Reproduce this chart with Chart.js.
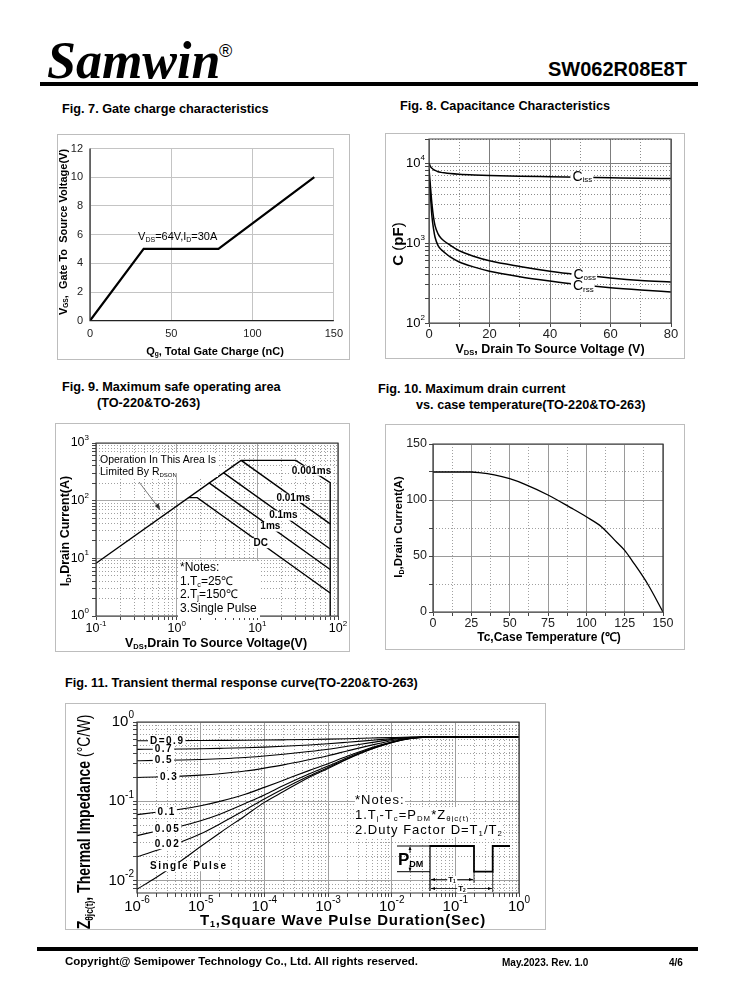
<!DOCTYPE html>
<html>
<head>
<meta charset="utf-8">
<title>SW062R08E8T</title>
<script src="https://cdn.jsdelivr.net/npm/chart.js@4.4.1/dist/chart.umd.min.js"></script>
<style>
  body { margin: 0; background: #fff; }
  #page { position: relative; width: 738px; height: 1000px; overflow: hidden; font-family: "Liberation Sans", Arial, sans-serif; color: #000; }
  .t { position: absolute; white-space: nowrap; line-height: 1; }
  .b { font-weight: bold; }
  .mid { transform: translateY(-50%); }
  .ctr { transform: translate(-50%, -50%); }
  .rot { transform: translate(-50%, -50%) rotate(-90deg); }
  .rule { position: absolute; background: #000; }
  .box { position: absolute; border: 1.5px solid #bdbdbd; box-sizing: border-box; pointer-events: none; }
  canvas { position: absolute; }
  sub { font-size: 0.6em; vertical-align: -0.3em; line-height: 0; }
  .wb { background: #fff; }
  .ttl { font-size: 12.7px; font-weight: bold; }
</style>
</head>
<body>
<div id="page">
  <!-- header -->
  <div class="t" style="left:47px;top:31px;font:italic bold 52px 'Liberation Serif',serif;">Samwin</div>
  <div class="t" style="left:219px;top:41px;font:18px 'Liberation Sans',sans-serif;">®</div>
  <div class="t b mid" style="left:548px;top:69px;font-size:20px;">SW062R08E8T</div>
  <div class="rule" style="left:40px;top:82px;width:658px;height:4px;"></div>

  <!-- figure titles -->
  <div class="t ttl mid" style="left:62px;top:109px;">Fig. 7. Gate charge characteristics</div>
  <div class="t ttl mid" style="left:400px;top:106px;">Fig. 8. Capacitance Characteristics</div>
  <div class="t ttl mid" style="left:62px;top:387px;">Fig. 9. Maximum safe operating area</div>
  <div class="t ttl mid" style="left:97px;top:403px;">(TO-220&amp;TO-263)</div>
  <div class="t ttl mid" style="left:378px;top:389px;">Fig. 10. Maximum drain current</div>
  <div class="t ttl mid" style="left:416px;top:405px;">vs. case temperature(TO-220&amp;TO-263)</div>
  <div class="t ttl mid" style="left:65px;top:683px;">Fig. 11. Transient thermal response curve(TO-220&amp;TO-263)</div>

  <canvas id="c7"></canvas>
  <canvas id="c8"></canvas>
  <canvas id="c9"></canvas>
  <canvas id="c10"></canvas>
  <canvas id="c11"></canvas>

  <div class="box" style="left:57px;top:134px;width:293px;height:226px;"></div>
  <div class="box" style="left:385px;top:133px;width:300px;height:226px;"></div>
  <div class="box" style="left:55px;top:423px;width:295px;height:229px;"></div>
  <div class="box" style="left:385px;top:424px;width:300px;height:226px;"></div>
  <div class="box" style="left:65px;top:703px;width:481px;height:227px;"></div>

  <!-- fig 7 axis titles -->
  <div class="t b rot" style="left:63px;top:232px;font-size:11px;">V<sub>GS</sub>,&nbsp; Gate To&nbsp; Source Voltage(V)</div>
  <div class="t b ctr" style="left:215px;top:351px;font-size:11px;">Q<sub>g</sub>, Total Gate Charge (nC)</div>

  <!-- fig 8 axis titles -->
  <div class="t b rot" style="left:397px;top:244px;font-size:15px;">C <span style="font-weight:normal">(</span>pF<span style="font-weight:normal">)</span></div>
  <div class="t b ctr" style="left:550px;top:349px;font-size:12.5px;">V<sub>DS</sub>, Drain To Source Voltage (V)</div>

  <!-- fig 9 axis titles and notes -->
  <div class="t b rot" style="left:65px;top:531px;font-size:12.5px;">I<sub>D</sub>,Drain Current(A)</div>
  <div class="t b ctr" style="left:216px;top:643px;font-size:12.5px;">V<sub>DS</sub>,Drain To Source Voltage(V)</div>
  <div class="t wb" style="left:100px;top:453px;font-size:10.5px;line-height:12px;padding-right:2px;">Operation In This Area Is<br>Limited By R<sub style="font-size:6px">DSON</sub></div>
  <div class="t wb" style="left:178px;top:561px;font-size:12px;line-height:13.7px;padding:0 3px 2px 2px;">*Notes:<br>1.T<sub>c</sub>=25℃<br>2.T<sub>j</sub>=150℃<br>3.Single Pulse</div>

  <!-- fig 10 axis titles -->
  <div class="t b rot" style="left:399px;top:527px;font-size:11.5px;">I<sub>D</sub>,Drain Current(A)</div>
  <div class="t b ctr" style="left:549px;top:637px;font-size:12px;">Tc,Case Temperature (℃)</div>

  <!-- fig 11 axis titles and notes -->
  <div class="t b" style="left:83px;top:822px;font-size:19px;transform:translate(-50%,-50%) rotate(-90deg) scaleX(0.74);">Z<sub>θjc(t)</sub>, Thermal Impedance <span style="font-weight:normal">(°C/W)</span></div>
  <div class="t b ctr" style="left:343px;top:919px;font-size:15px;letter-spacing:0.8px;">T<sub>1</sub>,Square Wave Pulse Duration(Sec)</div>
  <div class="t" style="left:355px;top:792px;font-size:13px;line-height:15px;letter-spacing:1px;">
    <span class="wb">*Notes:</span><br>
    <span class="wb">1.T<sub>j</sub>-T<sub>c</sub>=P<sub>DM</sub>*Z<sub>θjc(t)</sub></span><br>
    <span class="wb">2.Duty Factor D=T<sub>1</sub>/T<sub>2</sub></span>
  </div>
  <div class="t b mid" style="left:398px;top:859px;font-size:17px;">P<sub style="font-size:9px">DM</sub></div>

  <svg width="738" height="1000" style="position:absolute;left:0;top:0;pointer-events:none;">
    <line x1="139" y1="482" x2="158" y2="507" stroke="#555" stroke-width="0.8"/>
    <polygon points="160.5,510.5 154.8,506 158.6,503.2" fill="#333"/>
    <g stroke="#000" fill="none">
      <polyline points="430,846 474,846 474,871.7 492.7,871.7 492.7,846 510,846" stroke-width="1.8"/>
      <line x1="397" y1="846" x2="430" y2="846" stroke-width="1"/>
      <line x1="397" y1="871.7" x2="430" y2="871.7" stroke-width="1"/>
      <line x1="430" y1="845" x2="430" y2="891" stroke-width="1.2"/>
      <line x1="474" y1="871.7" x2="474" y2="883" stroke-width="0.8"/>
      <line x1="492.7" y1="871.7" x2="492.7" y2="892" stroke-width="0.8"/>
      <line x1="410" y1="847" x2="410" y2="853" stroke-width="0.8"/>
      <line x1="410" y1="865" x2="410" y2="871" stroke-width="0.8"/>
      <line x1="431" y1="879.5" x2="473" y2="879.5" stroke-width="0.8"/>
      <line x1="431" y1="888.5" x2="492" y2="888.5" stroke-width="0.8"/>
    </g>
    <g fill="#000">
      <polygon points="410,846.5 408.5,850 411.5,850"/>
      <polygon points="410,871.2 408.5,867.7 411.5,867.7"/>
      <polygon points="431,879.5 435,878 435,881"/>
      <polygon points="473,879.5 469,878 469,881"/>
      <polygon points="431,888.5 435,887 435,890"/>
      <polygon points="492,888.5 488,887 488,890"/>
    </g>
  </svg>
  <div class="t b ctr wb" style="left:452px;top:879.5px;font-size:8px;padding:0 1px;">T<sub>1</sub></div>
  <div class="t b ctr wb" style="left:462px;top:888.5px;font-size:8px;padding:0 1px;">T<sub>2</sub></div>

  <!-- footer -->
  <div class="rule" style="left:37px;top:947px;width:661px;height:4px;"></div>
  <div class="t b mid" style="left:65px;top:962px;font-size:11.5px;">Copyright@ Semipower Technology Co., Ltd. All rights reserved.</div>
  <div class="t b mid" style="left:502px;top:963px;font-size:10px;">May.2023. Rev. 1.0</div>
  <div class="t b mid" style="left:669px;top:963px;font-size:10px;">4/6</div>
</div>

<script>
// Fig. 7 gate charge
const fig7Charge = [0, 33, 79, 138];
const fig7Vgs = [0, 5, 5, 10];

// Fig. 8 capacitance (pF) vs VDS
const fig8Vds = [0, 0.5, 1, 1.5, 2, 3, 4, 5, 7, 10, 15, 20, 30, 40, 50, 60, 70, 80];
const fig8Ciss = [10000, 9000, 8600, 8300, 8100, 7800, 7650, 7550, 7400, 7250, 7100, 7000, 6850, 6750, 6650, 6550, 6450, 6400];
const fig8Coss = [8500, 5000, 3000, 2100, 1650, 1300, 1150, 1060, 940, 800, 680, 600, 510, 445, 400, 365, 340, 325];
const fig8Crss = [7000, 3800, 2100, 1500, 1180, 930, 830, 770, 670, 580, 500, 445, 380, 335, 300, 275, 258, 245];

// Fig. 9 safe operating area
const fig9RdsV = [0.1, 6.3];
const fig9RdsI = [8.2, 500];
const fig9P001V = [6.3, 30, 80, 80];
const fig9P001I = [500, 500, 206, 1];
const fig9P01V = [6.3, 80];
const fig9P01I = [500, 39.5];
const fig9P1V = [3.8, 80];
const fig9P1I = [307, 14.5];
const fig9P10V = [2.5, 80];
const fig9P10I = [206, 6.4];
const fig9DcV = [1.38, 1.8, 80];
const fig9DcI = [113, 113, 2.5];

// Fig. 10 drain current derating
const fig10Tc = [0, 25, 30, 40, 50, 60, 75, 90, 100, 110, 120, 125, 130, 140, 150];
const fig10Id = [125, 125, 124.5, 122.5, 119, 114, 104.5, 93, 85, 76, 62, 55, 45.5, 25, 0];

// Fig. 11 transient thermal impedance
const fig11Time = [1e-6, 2e-6, 5e-6, 1e-5, 2e-5, 5e-5, 1e-4, 2e-4, 5e-4, 1e-3, 2e-3, 5e-3, 1e-2, 2e-2, 5e-2, 1e-1, 1];
const fig11Single = [0.0078, 0.011, 0.018, 0.027, 0.040, 0.066, 0.097, 0.133, 0.20, 0.26, 0.34, 0.46, 0.55, 0.62, 0.65, 0.65, 0.65];
const fig11D002 = [0.020, 0.024, 0.031, 0.039, 0.052, 0.078, 0.107, 0.144, 0.208, 0.267, 0.345, 0.463, 0.552, 0.622, 0.65, 0.65, 0.65];
const fig11D005 = [0.037, 0.042, 0.049, 0.057, 0.069, 0.094, 0.120, 0.158, 0.221, 0.278, 0.355, 0.47, 0.555, 0.624, 0.65, 0.65, 0.65];
const fig11D01 = [0.068, 0.073, 0.080, 0.088, 0.100, 0.123, 0.150, 0.185, 0.244, 0.298, 0.37, 0.48, 0.56, 0.626, 0.65, 0.65, 0.65];
const fig11D03 = [0.200, 0.203, 0.208, 0.214, 0.223, 0.241, 0.262, 0.288, 0.334, 0.376, 0.432, 0.515, 0.58, 0.63, 0.65, 0.65, 0.65];
const fig11D05 = [0.325, 0.328, 0.332, 0.337, 0.344, 0.357, 0.373, 0.392, 0.424, 0.454, 0.494, 0.553, 0.6, 0.637, 0.65, 0.65, 0.65];
const fig11D07 = [0.452, 0.454, 0.457, 0.460, 0.465, 0.473, 0.482, 0.494, 0.513, 0.531, 0.555, 0.59, 0.618, 0.641, 0.65, 0.65, 0.65];
const fig11D09 = [0.580, 0.581, 0.582, 0.584, 0.586, 0.589, 0.592, 0.596, 0.602, 0.608, 0.616, 0.628, 0.637, 0.645, 0.65, 0.65, 0.65];

// log axis labels (powers of ten)
const fig8YExp = [2, 3, 4];
const fig9XExp = [-1, 0, 1, 2];
const fig9YExp = [0, 1, 2, 3];
const fig11XExp = [-6, -5, -4, -3, -2, -1, 0];
const fig11YExp = [0, -1, -2];

const SANS = '"Liberation Sans", Arial, sans-serif';
Chart.defaults.font.family = SANS;

const pts = (xs, ys) => xs.map((x, i) => ({ x: x, y: ys[i] }));
const isDecade = (v) => Math.abs(Math.log10(v) - Math.round(Math.log10(v))) < 1e-6;

function logTicks(lo, hi) {
  const t = [];
  for (let e = lo; e < hi; e++) {
    for (let m = 1; m < 10; m++) t.push(+(m * Math.pow(10, e)).toPrecision(3));
  }
  t.push(Math.pow(10, hi));
  return t;
}

function line(data, width, smooth) {
  return {
    data: data, borderColor: '#000', borderWidth: width, pointRadius: 0, fill: false,
    tension: 0, cubicInterpolationMode: smooth ? 'monotone' : 'default'
  };
}

function gridFor(isMajor, majorColor, minorColor, ticks) {
  return {
    grid: {
      color: (c) => (c.tick && !isMajor(c.tick.value)) ? minorColor : majorColor,
      lineWidth: 1, drawTicks: ticks, tickLength: 4, tickColor: '#444'
    },
    border: { display: false, dash: (c) => (c.tick && !isMajor(c.tick.value)) ? [1, 2] : [] }
  };
}

function drawRich(ctx, x, y, parts, align, bgH) {
  ctx.save();
  ctx.textBaseline = 'middle';
  ctx.textAlign = 'left';
  let w = 0;
  parts.forEach((p) => {
    ctx.font = p.font;
    ctx.letterSpacing = p.ls || '0px';
    p.w = ctx.measureText(p.text).width;
    w += p.w;
  });
  let sx = align === 'center' ? x - w / 2 : (align === 'right' ? x - w : x);
  if (bgH) {
    ctx.fillStyle = '#fff';
    ctx.fillRect(sx - 2, y - bgH / 2, w + 3, bgH);
  }
  ctx.fillStyle = '#000';
  parts.forEach((p) => {
    ctx.font = p.font;
    ctx.letterSpacing = p.ls || '0px';
    ctx.fillText(p.text, sx, y + (p.dy || 0));
    sx += p.w;
  });
  ctx.restore();
}

function powParts(exp, size) {
  return [
    { text: '10', font: size + 'px ' + SANS },
    { text: String(exp), font: Math.round(size * 0.65) + 'px ' + SANS, dy: -size * 0.42 }
  ];
}

// xLabelY / yLabelX are page coordinates
function powLabels(chart, xExp, yExp, size, xLabelY, yLabelX) {
  const ctx = chart.ctx;
  const ox = parseFloat(chart.canvas.style.left), oy = parseFloat(chart.canvas.style.top);
  const sx = chart.scales.x, sy = chart.scales.y;
  xExp.forEach((e) => {
    drawRich(ctx, sx.getPixelForValue(Math.pow(10, e)), xLabelY - oy, powParts(e, size), 'center', 0);
  });
  yExp.forEach((e) => {
    drawRich(ctx, yLabelX - ox, sy.getPixelForValue(Math.pow(10, e)), powParts(e, size), 'right', 0);
  });
}

function frame(chart, color, sides) {
  const ctx = chart.ctx, a = chart.chartArea;
  ctx.save();
  ctx.strokeStyle = color;
  ctx.lineWidth = 1.2;
  ctx.beginPath();
  if (sides === 'lb') {
    ctx.moveTo(a.left, a.top); ctx.lineTo(a.left, a.bottom); ctx.lineTo(a.right, a.bottom);
  } else {
    ctx.rect(a.left, a.top, a.right - a.left, a.bottom - a.top);
  }
  ctx.stroke();
  ctx.restore();
}

function makeChart(id, box, plot, scales, datasets, draw) {
  const cv = document.getElementById(id);
  cv.width = box.w;
  cv.height = box.h;
  cv.style.left = box.x + 'px';
  cv.style.top = box.y + 'px';
  scales.x.afterFit = (s) => { s.height = box.y + box.h - plot.y1; };
  scales.y.afterFit = (s) => { s.width = plot.x0 - box.x; };
  return new Chart(cv, {
    type: 'line',
    data: { datasets: datasets },
    options: {
      responsive: false,
      animation: false,
      devicePixelRatio: 1,
      events: [],
      layout: { padding: { left: 0, top: plot.y0 - box.y, right: box.x + box.w - plot.x1, bottom: 0 } },
      plugins: { legend: { display: false }, tooltip: { enabled: false } },
      scales: scales
    },
    plugins: [{ id: 'extra' + id, afterDatasetsDraw: (c) => draw(c) }]
  });
}

const tickFont = (size) => ({ size: size, family: SANS });

// ---- Fig. 7 ----
makeChart('c7', { x: 57, y: 134, w: 293, h: 226 }, { x0: 90, y0: 148.5, x1: 338, y1: 320.7 }, {
  x: Object.assign({ type: 'linear', min: 0, max: 150,
    ticks: { stepSize: 50, font: tickFont(11), color: '#222', padding: 7, maxRotation: 0, autoSkip: false } },
    gridFor(() => true, '#c4c4c4', '#c4c4c4', false)),
  y: Object.assign({ type: 'linear', min: 0, max: 12,
    ticks: { stepSize: 2, font: tickFont(11), color: '#222', padding: 7, autoSkip: false } },
    gridFor(() => true, '#c4c4c4', '#c4c4c4', false))
}, [line(pts(fig7Charge, fig7Vgs), 2.2, false)], (c) => {
  frame(c, '#222', 'lb');
  const px = c.scales.x.getPixelForValue(29.6), py = c.scales.y.getPixelForValue(5.85);
  const f = '11px ' + SANS, s = '7px ' + SANS;
  drawRich(c.ctx, px, py, [
    { text: 'V', font: f }, { text: 'DS', font: s, dy: 3 }, { text: '=64V,I', font: f },
    { text: 'D', font: s, dy: 3 }, { text: '=30A', font: f }
  ], 'left', 0);
});

// ---- Fig. 8 ----
const fig8Labels = [['iss', 50.7, 6650], ['oss', 51.5, 395], ['rss', 51, 285]];
makeChart('c8', { x: 385, y: 133, w: 300, h: 226 }, { x0: 429, y0: 139, x1: 671, y1: 323 }, {
  x: Object.assign({ type: 'linear', min: 0, max: 80,
    ticks: { stepSize: 10, font: tickFont(13), color: '#222', padding: 0, maxRotation: 0, autoSkip: false,
      callback: (v) => (v % 20 === 0 ? v : '') } },
    gridFor((v) => v % 20 === 0, '#7d7d7d', '#8c8c8c', true)),
  y: Object.assign({ type: 'logarithmic', min: 100, max: 20000,
    afterBuildTicks: (s) => { s.ticks = logTicks(2, 4).concat([20000]).map((v) => ({ value: v })); },
    ticks: { display: false } },
    gridFor(isDecade, '#7d7d7d', '#8c8c8c', true))
}, [
  line(pts(fig8Vds, fig8Ciss), 1.5, true),
  line(pts(fig8Vds, fig8Coss), 1.5, true),
  line(pts(fig8Vds, fig8Crss), 1.5, true)
], (c) => {
  frame(c, '#444', 'all');
  powLabels(c, [], fig8YExp, 13, 0, 425);
  fig8Labels.forEach((l) => {
    drawRich(c.ctx, c.scales.x.getPixelForValue(l[1]), c.scales.y.getPixelForValue(l[2]), [
      { text: 'C', font: '14px ' + SANS }, { text: l[0], font: '8px ' + SANS, dy: 3 }
    ], 'center', 12);
  });
});

// ---- Fig. 9 ----
const fig9Labels = [['0.001ms', 47, 330], ['0.01ms', 28, 112], ['0.1ms', 21, 55], ['1ms', 14.5, 35.5], ['DC', 11, 18.3]];
makeChart('c9', { x: 55, y: 423, w: 295, h: 229 }, { x0: 96, y0: 443, x1: 338, y1: 616 }, {
  x: Object.assign({ type: 'logarithmic', min: 0.1, max: 100,
    afterBuildTicks: (s) => { s.ticks = logTicks(-1, 2).map((v) => ({ value: v })); },
    ticks: { display: false } },
    gridFor(isDecade, '#a8a8a8', '#a0a0a0', true)),
  y: Object.assign({ type: 'logarithmic', min: 1, max: 1000,
    afterBuildTicks: (s) => { s.ticks = logTicks(0, 3).map((v) => ({ value: v })); },
    ticks: { display: false } },
    gridFor(isDecade, '#a8a8a8', '#a0a0a0', true))
}, [
  line(pts(fig9RdsV, fig9RdsI), 1.4, false),
  line(pts(fig9P001V, fig9P001I), 1.4, false),
  line(pts(fig9P01V, fig9P01I), 1.4, false),
  line(pts(fig9P1V, fig9P1I), 1.4, false),
  line(pts(fig9P10V, fig9P10I), 1.4, false),
  line(pts(fig9DcV, fig9DcI), 1.4, false)
], (c) => {
  frame(c, '#333', 'all');
  powLabels(c, fig9XExp, fig9YExp, 12.5, 629, 89);
  fig9Labels.forEach((l) => {
    drawRich(c.ctx, c.scales.x.getPixelForValue(l[1]), c.scales.y.getPixelForValue(l[2]), [
      { text: l[0], font: 'bold 10px ' + SANS }
    ], 'center', 10);
  });
});

// ---- Fig. 10 ----
makeChart('c10', { x: 385, y: 424, w: 300, h: 226 }, { x0: 433, y0: 444, x1: 663, y1: 612 }, {
  x: Object.assign({ type: 'linear', min: 0, max: 150,
    ticks: { stepSize: 12.5, font: tickFont(12.5), color: '#222', padding: 0, maxRotation: 0, autoSkip: false,
      callback: (v) => (v % 25 === 0 ? v : '') } },
    gridFor((v) => v % 25 === 0, '#9a9a9a', '#a0a0a0', true)),
  y: Object.assign({ type: 'linear', min: 0, max: 150,
    ticks: { stepSize: 25, font: tickFont(12.5), color: '#222', padding: 2, autoSkip: false,
      callback: (v) => (v % 50 === 0 ? v : '') } },
    gridFor((v) => v % 50 === 0, '#9a9a9a', '#a0a0a0', true))
}, [line(pts(fig10Tc, fig10Id), 1.3, true)], (c) => {
  frame(c, '#333', 'all');
});

// ---- Fig. 11 ----
const fig11Labels = [['D=0.9', 1.6e-6, 0.58], ['0.7', 1.9e-6, 0.45], ['0.5', 1.9e-6, 0.325], ['0.3', 2.3e-6, 0.2],
  ['0.1', 2.1e-6, 0.072], ['0.05', 1.9e-6, 0.045], ['0.02', 1.9e-6, 0.0285], ['Single Pulse', 1.6e-6, 0.015]];
makeChart('c11', { x: 65, y: 703, w: 481, h: 227 }, { x0: 137, y0: 722, x1: 519, y1: 893 }, {
  x: Object.assign({ type: 'logarithmic', min: 1e-6, max: 1,
    afterBuildTicks: (s) => { s.ticks = logTicks(-6, 0).map((v) => ({ value: v })); },
    ticks: { display: false } },
    gridFor(isDecade, '#a0a0a0', '#a0a0a0', true)),
  y: Object.assign({ type: 'logarithmic', min: 0.007, max: 1,
    afterBuildTicks: (s) => { s.ticks = [0.008, 0.009].concat(logTicks(-2, 0)).map((v) => ({ value: v })); },
    ticks: { display: false } },
    gridFor(isDecade, '#a0a0a0', '#a0a0a0', true))
}, [
  line(pts(fig11Time, fig11D09), 1.1, true),
  line(pts(fig11Time, fig11D07), 1.1, true),
  line(pts(fig11Time, fig11D05), 1.1, true),
  line(pts(fig11Time, fig11D03), 1.1, true),
  line(pts(fig11Time, fig11D01), 1.1, true),
  line(pts(fig11Time, fig11D005), 1.1, true),
  line(pts(fig11Time, fig11D002), 1.1, true),
  line(pts(fig11Time, fig11Single), 1.1, true)
], (c) => {
  frame(c, '#333', 'all');
  powLabels(c, fig11XExp, fig11YExp, 15, 907, 134);
  fig11Labels.forEach((l) => {
    drawRich(c.ctx, c.scales.x.getPixelForValue(l[1]), c.scales.y.getPixelForValue(l[2]), [
      { text: l[0], font: 'bold 10px ' + SANS, ls: '1.5px' }
    ], 'left', 9);
  });
});
</script>
</body>
</html>
